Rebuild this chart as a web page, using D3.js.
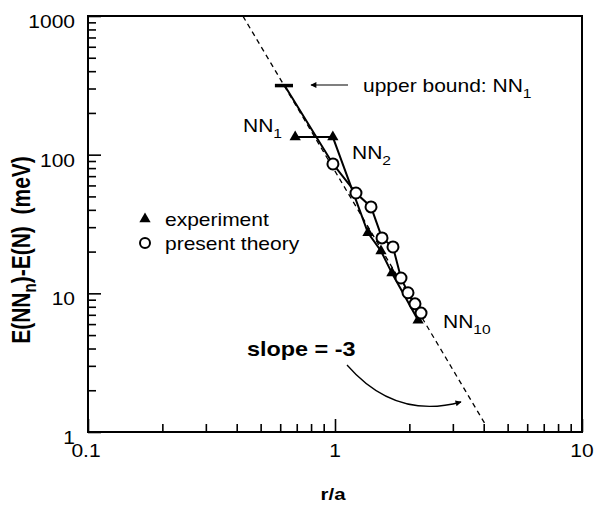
<!DOCTYPE html>
<html><head><meta charset="utf-8">
<script src="https://cdn.jsdelivr.net/npm/d3@7"></script>
<style>
html,body{margin:0;padding:0;background:#fff;}
text{font-family:"Liberation Sans",Arial,Helvetica,sans-serif;fill:#000;}
</style></head>
<body><svg id="c" width="595" height="506"></svg>
<script>
// ---- data ----
const xTickValues = [0.1, 1, 10];
const xTickLabels = ["0.1", "1", "10"];
const yTickValues = [1, 10, 100, 1000];
const yTickLabels = ["1", "10", "100", "1000"];

// experiment (triangles): r/a, energy (meV)
const expR = [0.69, 0.98, 1.36, 1.535, 1.70, 2.17];
const expE = [134, 134, 27.3, 20.2, 14.0, 6.4];

// present theory (circles)
const theoR = [0.981, 1.216, 1.399, 1.55, 1.717, 1.85, 1.975, 2.108, 2.23];
const theoE = [85.7, 52.9, 42.0, 25.1, 21.6, 12.9, 10.1, 8.4, 7.2];

// upper bound for NN1 (bar)
const upperR = [0.625];
const upperE = [315];
const upperRange = [0.571, 0.676];

// slope = -3 reference line: E = C * r^-3
const slopeC = 76;
const slopeR = [0.424, 4.05];

// ---- layout ----
const SX = 1.2; // horizontal text stretch
const svg = d3.select("#c");
const x = d3.scaleLog().domain([0.1, 10]).range([88, 582]);
const y = d3.scaleLog().domain([1, 1000]).range([432, 16]);

function stext(px, py, str, size, weight, anchor) {
  return svg.append("text")
    .attr("transform", `translate(${px},${py}) scale(${SX},1)`)
    .attr("font-size", size)
    .attr("font-weight", weight || "normal")
    .attr("text-anchor", anchor || "start")
    .text(str);
}

function minors(dom) {
  const out = [];
  for (let d = dom[0]; d < dom[1]; d *= 10)
    for (let k = 2; k <= 9; k++) out.push(d * k);
  return out;
}

// axes (inward ticks)
const gx = svg.append("g").attr("transform", "translate(0,432)");
gx.call(d3.axisBottom(x).tickValues(xTickValues).tickSize(-13).tickFormat(""));
const gxm = svg.append("g").attr("transform", "translate(0,432)");
gxm.call(d3.axisBottom(x).tickValues(minors([0.1, 10])).tickSize(-8).tickFormat(""));
const gy = svg.append("g").attr("transform", "translate(88,0)");
gy.call(d3.axisLeft(y).tickValues(yTickValues).tickSize(-13).tickFormat(""));
const gym = svg.append("g").attr("transform", "translate(88,0)");
gym.call(d3.axisLeft(y).tickValues(minors([1, 1000])).tickSize(-8).tickFormat(""));
svg.selectAll(".domain").remove();
svg.selectAll(".tick line").attr("stroke", "#000").attr("stroke-width", 1.6);

// frame
svg.append("rect").attr("x", 88).attr("y", 16).attr("width", 582 - 88).attr("height", 432 - 16)
  .attr("fill", "none").attr("stroke", "#000").attr("stroke-width", 2);

// tick labels
yTickValues.forEach((v, i) => stext(75, y(v) + 12, yTickLabels[i], 17.5, "normal", "end"));
xTickValues.forEach((v, i) => stext(x(v) - (i === 0 ? 2 : 0), 457, xTickLabels[i], 17.5, "normal", "middle"));

// axis titles
stext(333, 500, "r/a", 17, "bold", "middle");
const yl = svg.append("text")
  .attr("transform", "translate(30,250) rotate(-90) scale(1,1.2)")
  .attr("font-size", 21).attr("font-weight", "bold").attr("text-anchor", "middle");
yl.append("tspan").text("E(NN");
yl.append("tspan").attr("font-size", 15).attr("dy", 5).text("n");
yl.append("tspan").attr("dy", -5).text(")-E(N)\u00a0\u00a0(meV)");

// slope -3 dashed line
const slopePts = slopeR.map(r => [r, slopeC / (r * r * r)]);
const line = d3.line().x(d => x(d[0])).y(d => y(d[1]));
svg.append("path").attr("d", line(slopePts)).attr("fill", "none")
  .attr("stroke", "#000").attr("stroke-width", 1.3).attr("stroke-dasharray", "5,4");

// theory line (from upper bound through circles)
const theoPts = upperR.map((r, i) => [r, upperE[i]]).concat(theoR.map((r, i) => [r, theoE[i]]));
svg.append("path").attr("d", line(theoPts)).attr("fill", "none")
  .attr("stroke", "#000").attr("stroke-width", 2);

// experiment line
const expPts = expR.map((r, i) => [r, expE[i]]);
svg.append("path").attr("d", line(expPts)).attr("fill", "none")
  .attr("stroke", "#000").attr("stroke-width", 2);

// upper bound bar
svg.append("line").attr("x1", x(upperRange[0])).attr("x2", x(upperRange[1]))
  .attr("y1", y(upperE[0])).attr("y2", y(upperE[0]))
  .attr("stroke", "#000").attr("stroke-width", 3.5);

// markers
const tri = d3.symbol().type(d3.symbolTriangle).size(55);
svg.selectAll(".tri").data(expPts).join("path")
  .attr("transform", d => `translate(${x(d[0])},${y(d[1])})`)
  .attr("d", tri).attr("fill", "#000");
svg.selectAll(".circ").data(theoR.map((r, i) => [r, theoE[i]])).join("circle")
  .attr("cx", d => x(d[0])).attr("cy", d => y(d[1])).attr("r", 5.5)
  .attr("fill", "#fff").attr("stroke", "#000").attr("stroke-width", 2);

// legend
svg.append("path").attr("transform", "translate(145,219)").attr("d", tri).attr("fill", "#000");
svg.append("circle").attr("cx", 145).attr("cy", 243).attr("r", 5).attr("fill", "#fff")
  .attr("stroke", "#000").attr("stroke-width", 2);
stext(165, 226, "experiment", 17.5);
stext(165, 250, "present theory", 17.5);

// labels with subscripts
function subLabel(px, py, main, sub) {
  const t = svg.append("text").attr("transform", `translate(${px},${py}) scale(${SX},1)`)
    .attr("font-size", 17.5);
  t.append("tspan").text(main);
  t.append("tspan").attr("font-size", 13).attr("dy", 6).text(sub);
  return t;
}
subLabel(243, 132, "NN", "1");
subLabel(352, 159, "NN", "2");
subLabel(443, 328, "NN", "10");
subLabel(363, 92, "upper bound: NN", "1");

// arrow to upper bound
svg.append("defs").append("marker").attr("id", "ah").attr("viewBox", "0 0 10 10")
  .attr("refX", 9).attr("refY", 5).attr("markerWidth", 9).attr("markerHeight", 6)
  .attr("markerUnits", "userSpaceOnUse").attr("orient", "auto")
  .append("path").attr("d", "M0,0 L10,5 L0,10 z").attr("fill", "#000");
svg.append("line").attr("x1", 348).attr("x2", 311).attr("y1", 85).attr("y2", 85)
  .attr("stroke", "#000").attr("stroke-width", 1.2).attr("marker-end", "url(#ah)");

// slope label + curved arrow
stext(247, 356, "slope = -3", 19.5, "bold");
svg.append("path").attr("d", "M347,365 Q395,420 461,402").attr("fill", "none")
  .attr("stroke", "#000").attr("stroke-width", 1.3).attr("marker-end", "url(#ah)");
</script></body></html>
